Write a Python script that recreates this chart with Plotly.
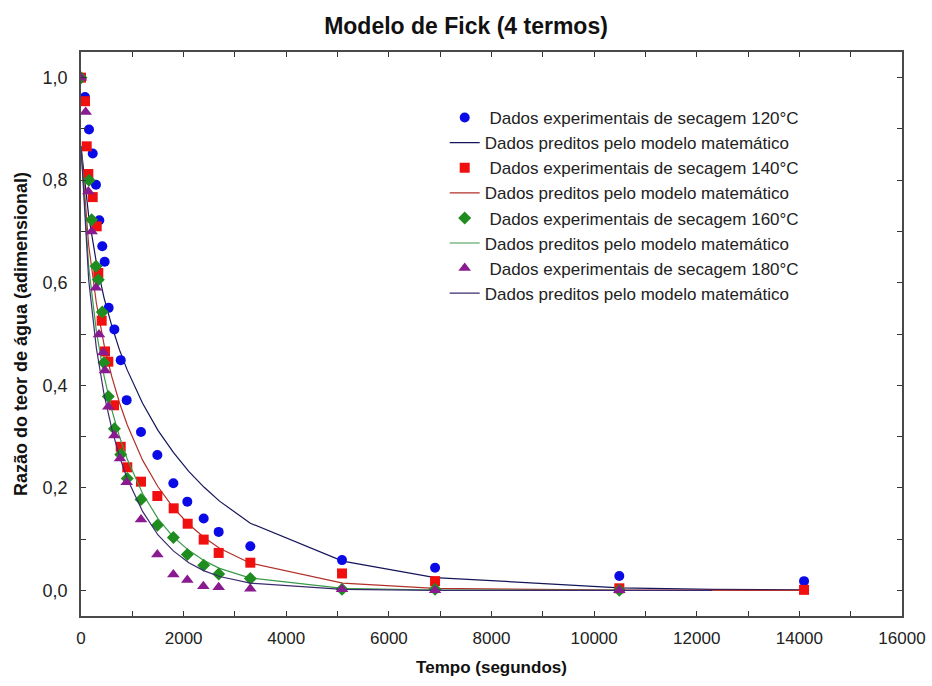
import plotly.graph_objects as go

# Drying time (s) and moisture ratio read for each drying temperature
t_120 = [0, 78, 156, 228, 292, 357, 415, 461, 539, 650, 774, 890, 1169, 1488,
         1800, 2072, 2391, 2683, 3300, 5087, 6900, 10491, 14091]
mr_120 = [1.0, 0.962, 0.899, 0.852, 0.791, 0.722, 0.671, 0.641, 0.551, 0.509,
          0.449, 0.371, 0.309, 0.264, 0.209, 0.173, 0.140, 0.114, 0.086, 0.059,
          0.044, 0.028, 0.018]

t_140 = [0, 78, 111, 143, 228, 306, 337, 403, 468, 532, 643, 774, 902, 1169,
         1488, 1806, 2079, 2391, 2683, 3300, 5087, 6900, 10491, 14091]
mr_140 = [1.0, 0.954, 0.866, 0.812, 0.767, 0.710, 0.619, 0.526, 0.466, 0.446,
          0.361, 0.280, 0.240, 0.212, 0.184, 0.160, 0.130, 0.099, 0.073, 0.054,
          0.033, 0.018, 0.004, 0.001]

t_160 = [0, 156, 208, 292, 337, 415, 448, 532, 650, 774, 902, 1169, 1488, 1800,
         2072, 2391, 2683, 3300, 5087, 6900, 10491]
mr_160 = [1.0, 0.800, 0.723, 0.632, 0.606, 0.543, 0.444, 0.378, 0.315, 0.265,
          0.218, 0.177, 0.127, 0.103, 0.070, 0.049, 0.032, 0.023, 0.002, 0.002,
          0.0]

t_180 = [0, 91, 143, 208, 292, 351, 435, 468, 532, 650, 760, 890, 1169, 1488,
         1800, 2072, 2384, 2683, 3300, 5087, 6900, 10491]
mr_180 = [1.0, 0.933, 0.778, 0.700, 0.590, 0.499, 0.464, 0.429, 0.358, 0.302,
          0.257, 0.211, 0.138, 0.070, 0.031, 0.020, 0.008, 0.006, 0.003, 0.002,
          0.0, 0.0]

# Values predicted by the 4-term Fick model
t_model = [0, 150, 300, 450, 600, 750, 900, 1200, 1500, 1800, 2100, 2400, 2700,
           3300, 5100, 6900, 10500, 12300, 14100]
pred_120 = [0.866, 0.730, 0.639, 0.570, 0.516, 0.469, 0.430, 0.365, 0.312,
            0.269, 0.232, 0.201, 0.174, 0.131, 0.057, 0.025, 0.005, 0.002, 0.001]
pred_140 = [0.866, 0.673, 0.560, 0.479, 0.417, 0.366, 0.323, 0.254, 0.202,
            0.161, 0.129, 0.103, 0.082, 0.053, 0.014, 0.004, 0.0003, 0.0, 0.0]
pred_160 = [0.866, 0.631, 0.505, 0.418, 0.352, 0.300, 0.256, 0.189, 0.140,
            0.104, 0.078, 0.058, 0.043, 0.024, 0.004, 0.0007, 0.0]
pred_180 = [0.866, 0.605, 0.472, 0.382, 0.315, 0.261, 0.218, 0.154, 0.108,
            0.077, 0.054, 0.038, 0.027, 0.014, 0.002, 0.0, 0.0, 0.0]

exp_label = "\u00a0Dados experimentais de secagem {}°C"
model_label = "Dados preditos pelo modelo matemático"

series = [
    ("120", t_120, mr_120, pred_120, "circle", 10, "#0a0ae6", "#14145a"),
    ("140", t_140, mr_140, pred_140, "square", 10, "#f01010", "#b2302a"),
    ("160", t_160, mr_160, pred_160, "diamond", 10, "#1e8c1e", "#3a9a4a"),
    ("180", t_180, mr_180, pred_180, "triangle-up", 11, "#8a1a90", "#3c2a6e"),
]

fig = go.Figure()
rank = 1
for temp, t, mr, pred, sym, size, mcol, lcol in series:
    fig.add_trace(go.Scatter(
        x=t_model[:len(pred)], y=pred, mode="lines", name=model_label,
        line=dict(color=lcol, width=1.2), legendrank=rank + 1,
    ))
    fig.add_trace(go.Scatter(
        x=t, y=mr, mode="markers", name=exp_label.format(temp),
        marker=dict(symbol=sym, size=size, color=mcol, line=dict(width=0)),
        legendrank=rank,
    ))
    rank += 2

axis_common = dict(
    showline=True, linecolor="#4a4a4a", linewidth=1.5, mirror="allticks",
    ticks="inside", ticklen=5, tickcolor="#333", tickwidth=1,
    showgrid=False, zeroline=False, automargin=False,
)

fig.update_layout(
    width=932, height=686,
    margin=dict(l=81, r=30, t=52, b=70),
    paper_bgcolor="white", plot_bgcolor="white",
    separators=",.",
    title=dict(text="<b>Modelo de Fick (4 termos)</b>", x=0.5, xref="container",
               y=0.962, yref="container", yanchor="middle",
               font=dict(family="Arial", size=23, color="#111")),
    xaxis=dict(range=[0, 16000], dtick=2000, tick0=0, tickformat="d",
               ticklabelstandoff=6,
               tickfont=dict(family="Arial", size=17, color="#222"),
               minor=dict(dtick=1000, ticks="inside", ticklen=5, tickcolor="#333"),
               title=dict(text="<b>Tempo (segundos)</b>", standoff=14,
                          font=dict(family="Arial", size=17, color="#111")),
               **axis_common),
    yaxis=dict(range=[-0.05, 1.05], dtick=0.2, tick0=0, tickformat=".1f",
               ticklabelstandoff=8,
               tickfont=dict(family="Arial", size=18, color="#222"),
               minor=dict(dtick=0.1, ticks="inside", ticklen=5, tickcolor="#333"),
               title=dict(text="<b>Razão do teor de água (adimensional)</b>",
                          standoff=10,
                          font=dict(family="Arial", size=18, color="#111")),
               **axis_common),
    legend=dict(x=0.443, y=0.915, xanchor="left", yanchor="top",
                bgcolor="rgba(0,0,0,0)", borderwidth=0,
                font=dict(family="Arial", size=17, color="#222"),
                tracegroupgap=0),
    showlegend=True,
)

fig.write_html("out.html")
